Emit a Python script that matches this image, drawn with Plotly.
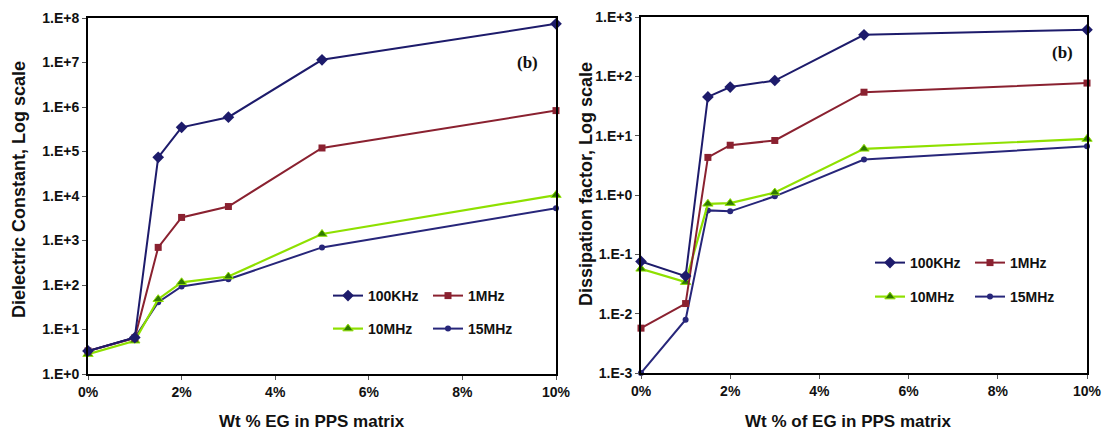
import plotly.graph_objects as go

# ---------------- data ----------------
wt_pct = [0, 1, 1.5, 2, 3, 5, 10]

# Left panel: dielectric constant
dc_100khz = [3.3, 6.6, 7.4e4, 3.5e5, 5.9e5, 1.15e7, 7.4e7]
dc_1mhz   = [3.3, 6.5, 700, 3300, 5800, 1.2e5, 8.3e5]
dc_10mhz  = [2.8, 5.6, 48, 115, 155, 1400, 1.05e4]
dc_15mhz  = [3.3, 6.5, 41, 93, 135, 700, 5300]

# Right panel: dissipation factor
df_100khz = [0.076, 0.043, 45, 66, 85, 500, 610]
df_1mhz   = [0.0057, 0.0148, 4.3, 6.9, 8.3, 54, 77]
df_10mhz  = [0.057, 0.034, 0.71, 0.73, 1.1, 6.0, 8.8]
df_15mhz  = [0.001, 0.0079, 0.55, 0.53, 0.95, 3.95, 6.6]

series_names = ["100KHz", "1MHz", "10MHz", "15MHz"]

x_tickvals = [0, 2, 4, 6, 8, 10]
x_ticktext = ["0%", "2%", "4%", "6%", "8%", "10%"]

left_y_tickvals = [1e0, 1e1, 1e2, 1e3, 1e4, 1e5, 1e6, 1e7, 1e8]
left_y_ticktext = ["1.E+0", "1.E+1", "1.E+2", "1.E+3", "1.E+4", "1.E+5", "1.E+6", "1.E+7", "1.E+8"]
right_y_tickvals = [1e-3, 1e-2, 1e-1, 1e0, 1e1, 1e2, 1e3]
right_y_ticktext = ["1.E-3", "1.E-2", "1.E-1", "1.E+0", "1.E+1", "1.E+2", "1.E+3"]

left_ytitle = "Dielectric Constant, Log scale"
right_ytitle = "Dissipation factor, Log scale"
left_xtitle = "Wt % EG in PPS matrix"
right_xtitle = "Wt % of EG in PPS matrix"

# ---------------- styles ----------------
W, H = 1108, 434
FONT = "Liberation Sans, Arial, sans-serif"

styles = [
    dict(line=dict(color="#1d1b6b", width=2),
         marker=dict(symbol="diamond", size=9, color="#1d1b6b")),
    dict(line=dict(color="#8a2130", width=2),
         marker=dict(symbol="square", size=7, color="#8a2130")),
    dict(line=dict(color="#8ee000", width=2.2),
         marker=dict(symbol="triangle-up", size=9, color="#2f7a00",
                     line=dict(color="#8ee000", width=1))),
    dict(line=dict(color="#27267a", width=2),
         marker=dict(symbol="circle", size=6, color="#27267a")),
]

def px_x(p):
    return p / W

def px_y(p):
    return 1 - p / H

fig = go.Figure()

left_data = [dc_100khz, dc_1mhz, dc_10mhz, dc_15mhz]
right_data = [df_100khz, df_1mhz, df_10mhz, df_15mhz]

# legend placements (pixel): (left, center y)
left_leg_pos = [(328, 296), (428, 296), (328, 329), (428, 329)]
right_leg_pos = [(870, 263), (970, 263), (870, 297), (970, 297)]

legend_layouts = {}
k = 1
for panel, data, xa, ya, pos in [
    ("L", left_data, "x", "y", left_leg_pos),
    ("R", right_data, "x2", "y2", right_leg_pos),
]:
    # draw in reverse so 100KHz is on top
    order = [3, 2, 1, 0]
    for i in order:
        lname = "legend" if k == 1 else f"legend{k}"
        fig.add_trace(go.Scatter(
            x=wt_pct, y=data[i], name=series_names[i], mode="lines+markers",
            xaxis=xa, yaxis=ya, cliponaxis=False, legend=lname,
            **styles[i]))
        lx, ly = pos[i]
        legend_layouts[lname] = dict(
            x=px_x(lx), y=px_y(ly), xanchor="left", yanchor="middle",
            bgcolor="rgba(0,0,0,0)", borderwidth=0,
            font=dict(family=FONT, size=14, color="#111111", weight="bold"),
            itemwidth=30, tracegroupgap=0)
        k += 1

axis_common = dict(
    showgrid=False, zeroline=False, showline=True, linecolor="#000000",
    linewidth=2, mirror=True, ticks="outside", ticklen=4, tickcolor="#555555",
    tickfont=dict(family=FONT, size=14, color="#111111", weight="bold"),
)

fig.update_layout(
    width=W, height=H, template="none",
    paper_bgcolor="white", plot_bgcolor="white",
    margin=dict(l=0, r=0, t=0, b=0, autoexpand=False),
    showlegend=True,
    xaxis=dict(domain=[88 / W, 556 / W], range=[0, 10], anchor="y",
               tickvals=x_tickvals, ticktext=x_ticktext, **axis_common),
    yaxis=dict(domain=[px_y(374), px_y(18)], type="log", range=[0, 8], anchor="x",
               tickvals=left_y_tickvals, ticktext=left_y_ticktext, **axis_common),
    xaxis2=dict(domain=[641 / W, 1087 / W], range=[0, 10], anchor="y2",
                tickvals=x_tickvals, ticktext=x_ticktext, **axis_common),
    yaxis2=dict(domain=[px_y(373), px_y(17)], type="log", range=[-3, 3], anchor="x2",
                tickvals=right_y_tickvals, ticktext=right_y_ticktext, **axis_common),
    **legend_layouts,
)

ann = [
    dict(text=left_ytitle, x=px_x(19), y=px_y(190), textangle=-90, size=18),
    dict(text=right_ytitle, x=px_x(586), y=px_y(184), textangle=-90, size=18),
    dict(text=left_xtitle, x=px_x(312), y=px_y(421), textangle=0, size=17),
    dict(text=right_xtitle, x=px_x(848), y=px_y(421), textangle=0, size=17),
]
for a in ann:
    fig.add_annotation(xref="paper", yref="paper", showarrow=False,
                       xanchor="center", yanchor="middle",
                       font=dict(family=FONT, size=a["size"], color="#111111", weight="bold"),
                       text=a["text"], x=a["x"], y=a["y"], textangle=a["textangle"])

for bx, by in [(527, 63), (1062, 52)]:
    fig.add_annotation(xref="paper", yref="paper", x=px_x(bx), y=px_y(by),
                       text="(b)", showarrow=False, xanchor="center", yanchor="middle",
                       font=dict(family="Liberation Serif, Times New Roman, serif",
                                 size=17, color="#111111", weight="bold"))

fig.write_html("out.html")
